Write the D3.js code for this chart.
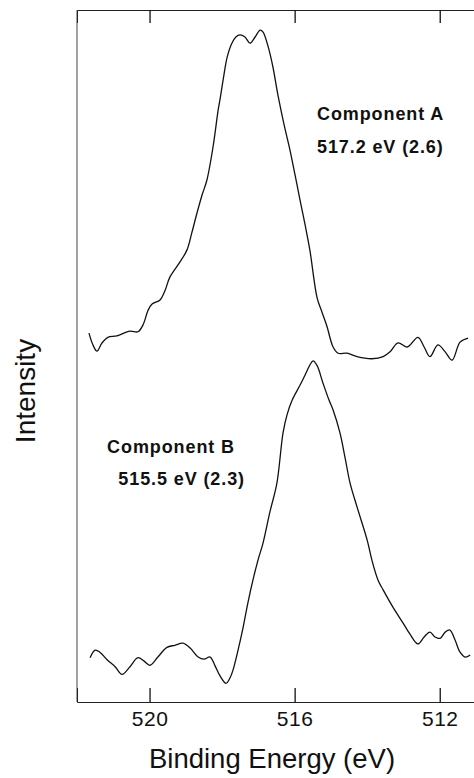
<!DOCTYPE html>
<html>
<head>
<meta charset="utf-8">
<title>Binding Energy components</title>
<script src="https://d3js.org/d3.v7.min.js"></script>
<style>
  body { margin: 0; background: #fff; }
  svg text { font-family: "Liberation Sans", Arial, Helvetica, sans-serif; fill: #111; }
</style>
</head>
<body>
<svg id="chart" width="474" height="778"></svg>
<script>
// binding energy (eV) and intensity (arb. units)
var energyA = [521.67, 521.56, 521.45, 521.31, 521.15, 520.90, 520.54, 520.32, 520.18, 520.04,
  519.93, 519.71, 519.57, 519.44, 519.16, 518.97, 518.83, 518.69, 518.55, 518.42,
  518.25, 518.11, 518.06, 517.95, 517.86, 517.73, 517.62, 517.51, 517.37, 517.23,
  517.09, 516.95, 516.87, 516.73, 516.60, 516.46, 516.29, 516.13, 515.99, 515.85,
  515.71, 515.58, 515.38, 515.25, 515.11, 514.94, 514.80, 514.56, 514.28, 513.87,
  513.56, 513.37, 513.15, 512.90, 512.60, 512.43, 512.27, 512.05, 511.85, 511.66,
  511.44, 511.22];
var intensityA = [53.3, 51.6, 50.7, 51.9, 52.7, 52.9, 53.6, 53.5, 54.5, 56.6,
  57.5, 58.1, 59.5, 61.4, 63.6, 65.3, 67.9, 70.7, 73.3, 75.4,
  80.2, 85.5, 87.0, 90.6, 93.2, 95.2, 96.1, 96.4, 96.1, 95.2,
  96.1, 97.1, 96.8, 94.7, 91.8, 87.7, 83.4, 79.8, 76.2, 72.5,
  68.9, 65.3, 58.4, 56.4, 54.3, 51.3, 50.4, 50.4, 49.9, 49.6,
  49.9, 50.6, 51.9, 51.3, 52.7, 51.3, 49.9, 51.6, 50.6, 49.4,
  52.0, 52.6];

var energyB = [521.64, 521.50, 521.37, 521.17, 520.95, 520.76, 520.54, 520.32, 520.15, 519.99,
  519.77, 519.52, 519.30, 519.08, 518.88, 518.66, 518.50, 518.33, 518.20, 518.06,
  517.89, 517.78, 517.70, 517.56, 517.42, 517.29, 517.15, 517.01, 516.87, 516.68,
  516.49, 516.32, 516.21, 516.07, 515.85, 515.69, 515.58, 515.49, 515.38, 515.22,
  515.05, 514.94, 514.75, 514.61, 514.47, 514.28, 514.00, 513.87, 513.70, 513.56,
  513.29, 513.01, 512.82, 512.60, 512.43, 512.27, 512.13, 511.99, 511.85, 511.72,
  511.58, 511.44, 511.30, 511.16];
var intensityB = [6.4, 7.5, 7.2, 6.1, 5.1, 4.0, 5.1, 6.4, 5.9, 5.3,
  6.5, 7.9, 8.2, 8.5, 7.8, 6.5, 6.2, 6.5, 5.3, 3.8,
  2.7, 3.5, 4.6, 7.5, 10.8, 14.3, 17.6, 20.5, 23.0, 27.5,
  31.6, 38.9, 41.5, 43.6, 45.8, 47.5, 48.7, 49.3, 48.6, 46.1,
  43.6, 42.2, 38.9, 35.3, 31.6, 28.2, 23.4, 20.5, 17.6, 16.2,
  13.7, 11.4, 9.8, 8.4, 9.4, 10.1, 9.4, 9.2, 10.1, 10.4,
  9.0, 7.2, 6.5, 6.8];

var tickValues = [520, 516, 512];
var labelsA = ["Component A", "517.2 eV (2.6)"];
var labelsB = ["Component B", "515.5 eV (2.3)"];

var svg = d3.select("#chart");
// note: "top" clashes with window.top, so plot edges get their own names
var plotLeft = 77, plotRight = 476, plotTop = 10, plotBottom = 702;

var x = d3.scaleLinear().domain([522, 511]).range([plotLeft, plotRight]);
var y = d3.scaleLinear().domain([0, 100]).range([plotBottom, plotTop]);

// frame
svg.append("line").attr("x1", plotLeft).attr("x2", plotLeft).attr("y1", plotTop).attr("y2", plotBottom)
  .attr("stroke", "#444").attr("stroke-width", 1);

var bottomAxis = d3.axisBottom(x).tickValues(tickValues).tickSize(-14).tickPadding(24)
  .tickFormat(d3.format("d"));
var gb = svg.append("g").attr("transform", "translate(0," + plotBottom + ")").call(bottomAxis);
gb.select(".domain").attr("stroke", "#222");
gb.selectAll(".tick line").attr("stroke", "#111").attr("stroke-width", 1.3);
gb.selectAll(".tick text").attr("font-size", 21).attr("dy", 0).attr("y", 24)
  .attr("letter-spacing", 0.5)
  .style("font-family", "'Liberation Sans', Arial, sans-serif").attr("fill", "#111");

var topAxis = d3.axisTop(x).tickValues(tickValues).tickSize(-13).tickFormat("");
var gt = svg.append("g").attr("transform", "translate(0," + plotTop + ")").call(topAxis);
gt.select(".domain").attr("stroke", "#222");
gt.selectAll(".tick line").attr("stroke", "#111").attr("stroke-width", 1.3);

// spectra
var line = d3.line()
  .x(function(d) { return x(d[0]); })
  .y(function(d) { return y(d[1]); })
  .curve(d3.curveCatmullRom.alpha(0.5));

[[energyA, intensityA], [energyB, intensityB]].forEach(function(s) {
  svg.append("path")
    .datum(d3.zip(s[0], s[1]))
    .attr("d", line)
    .attr("fill", "none")
    .attr("stroke", "#111")
    .attr("stroke-width", 1.3);
});

// component labels
labelsA.forEach(function(t, i) {
  svg.append("text").attr("x", 317).attr("y", 120 + i * 33)
    .attr("font-size", 18).attr("font-weight", "bold")
    .attr("letter-spacing", 0.9).text(t);
});
labelsB.forEach(function(t, i) {
  svg.append("text").attr("x", i === 0 ? 235 : 245).attr("y", 453 + i * 32)
    .attr("text-anchor", "end")
    .attr("font-size", 18).attr("font-weight", "bold")
    .attr("letter-spacing", 0.9).text(t);
});

// axis titles
svg.append("text").attr("x", 272).attr("y", 768).attr("text-anchor", "middle")
  .attr("font-size", 27.5).text("Binding Energy (eV)");
svg.append("text").attr("transform", "translate(35,391) rotate(-90)")
  .attr("text-anchor", "middle").attr("font-size", 28).text("Intensity");
</script>
</body>
</html>
